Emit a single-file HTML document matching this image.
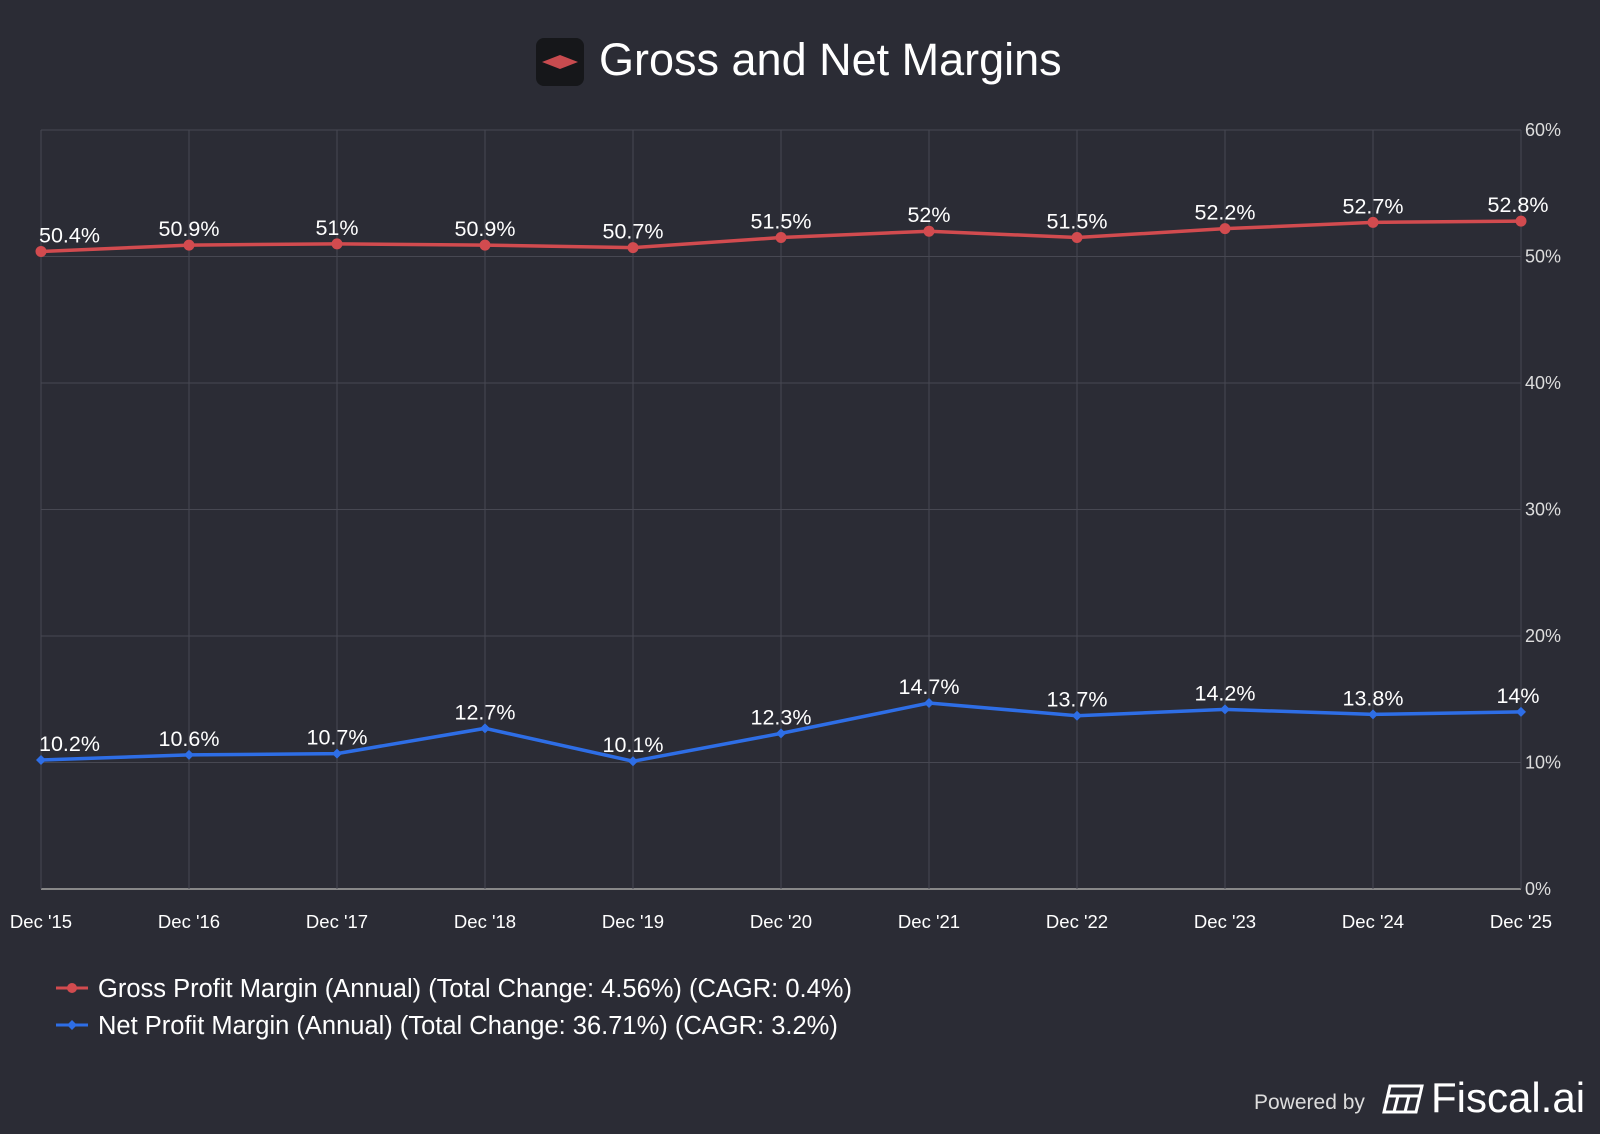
<!DOCTYPE html>
<html><head><meta charset="utf-8"><style>
html,body{margin:0;padding:0;background:#2b2c35;width:1600px;height:1134px;overflow:hidden;font-family:"Liberation Sans",Arial,sans-serif;}
</style></head><body>
<svg id="chart" width="1600" height="1134" xmlns="http://www.w3.org/2000/svg">
<rect width="1600" height="1134" fill="#2b2c35"/>
<g>
<rect x="536" y="38" width="48" height="48" rx="8" fill="#16171a"/>
<polygon points="542,62 560,55 578,62 560,69" fill="#c84b4f"/>
<text x="599" y="75" font-size="45" fill="#fff">Gross and Net Margins</text>
</g>
<g id="grid"></g>
<g id="series"></g>
<g>
<g>
<line x1="56" y1="988" x2="88" y2="988" stroke="#d24b4f" stroke-width="3"/><circle cx="72" cy="988" r="5" fill="#d24b4f"/>
<text x="98" y="997" font-size="25.5" fill="#fff">Gross Profit Margin (Annual) (Total Change: 4.56%) (CAGR: 0.4%)</text></g>
<g>
<line x1="56" y1="1025" x2="88" y2="1025" stroke="#2e6ee6" stroke-width="3"/><polygon points="72,1020 77,1025 72,1030 67,1025" fill="#2e6ee6"/>
<text x="98" y="1034" font-size="25.5" fill="#fff">Net Profit Margin (Annual) (Total Change: 36.71%) (CAGR: 3.2%)</text></g>
</g>
<g>
<text x="1254" y="1109" font-size="21" fill="#ddd">Powered by</text>
<g fill="none" stroke="#fff" stroke-width="3"><path d="M1390 1086 L1422 1086 L1416 1112 L1384 1112 Z"/><line x1="1387" y1="1096" x2="1420" y2="1096"/><line x1="1398" y1="1096" x2="1394" y2="1112"/><line x1="1409" y1="1096" x2="1405" y2="1112"/></g>
<text x="1431" y="1112" font-size="42" fill="#fff">Fiscal.ai</text>
</g>
</svg>
<script>
const categories=["Dec '15","Dec '16","Dec '17","Dec '18","Dec '19","Dec '20","Dec '21","Dec '22","Dec '23","Dec '24","Dec '25"];
const grossValues=[50.4,50.9,51,50.9,50.7,51.5,52,51.5,52.2,52.7,52.8];
const netValues=[10.2,10.6,10.7,12.7,10.1,12.3,14.7,13.7,14.2,13.8,14];
const yTicks=[0,10,20,30,40,50,60];
const NS="http://www.w3.org/2000/svg";
const x0=41,x1=1521,yTop=130,yBot=889;
const xs=i=>x0+(x1-x0)*i/(categories.length-1);
const ys=v=>yBot-(yBot-yTop)*v/60;
function mk(t,a,p){const e=document.createElementNS(NS,t);for(const k in a)e.setAttribute(k,a[k]);p.appendChild(e);return e;}
const grid=document.getElementById('grid'),ser=document.getElementById('series');
yTicks.forEach(t=>{
 const l=mk('line',{x1:x0,x2:x1,y1:ys(t),y2:ys(t),stroke:t===0?'#888':'#474852','stroke-width':t===0?2:1},grid);
 
 
 const tx=mk('text',{x:1525,y:ys(t)+6,'font-size':18,fill:'#ddd'},grid);tx.textContent=t+'%';
 
 
});
categories.forEach((c,i)=>{
 const l=mk('line',{x1:xs(i),x2:xs(i),y1:yTop,y2:yBot,stroke:'#474852','stroke-width':1},grid);
 
 
 const tx=mk('text',{x:xs(i),y:928,'font-size':18.5,fill:'#fff','text-anchor':'middle'},grid);tx.textContent=c;
 
 
});
function draw(vals,color,name,diamond){
 const p=mk('polyline',{points:vals.map((v,i)=>xs(i)+','+ys(v)).join(' '),fill:'none',stroke:color,'stroke-width':3.5},ser);
 
 
 vals.forEach((v,i)=>{
  const x=xs(i),y=ys(v);
  const m=diamond?mk('polygon',{points:`${x},${y-5} ${x+5},${y} ${x},${y+5} ${x-5},${y}`,fill:color},ser):mk('circle',{cx:x,cy:y,r:5.5,fill:color},ser);
  
  
  const last=i===vals.length-1;
  const tx=mk('text',{x:i===0?x-2:(last?x-3:x),y:y-9,'font-size':21.5,fill:'#fff','text-anchor':i===0?'start':'middle'},ser);
  tx.textContent=v+'%';
  
  
 });
}
draw(grossValues,'#d24b4f','gross-margin',false);
draw(netValues,'#2e6ee6','net-margin',true);
</script>
</body></html>
